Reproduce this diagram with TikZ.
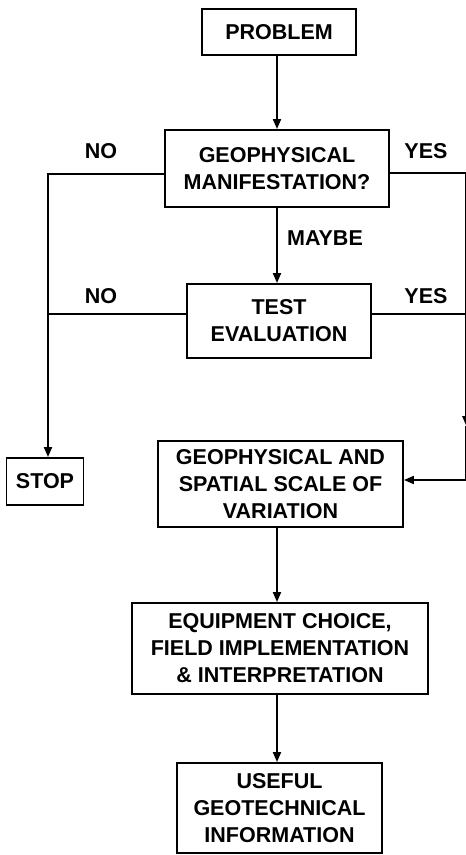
\documentclass[tikz,border=0pt]{standalone}
\usepackage{fontspec}
\setmainfont{Liberation Sans}
\usetikzlibrary{arrows.meta}
\begin{document}
\begin{tikzpicture}[x=1pt,y=-1pt,
  box/.style={draw, line width=1.9pt, inner sep=0pt, align=center, font=\fontsize{21.5}{27}\selectfont\bfseries},
  lab/.style={inner sep=0pt, font=\fontsize{21.5}{27}\selectfont\bfseries},
  conn/.style={line width=1.9pt},
  arr/.style={conn, -{Triangle[length=10pt,width=8pt]}}]
\useasboundingbox (0,0) rectangle (466,855);
\clip (0,0) rectangle (466,855);
% boxes
\node[box, minimum width=154pt, minimum height=46pt] (prob) at (279,32) {PROBLEM};
\node[box, minimum width=224pt, minimum height=77pt] (geo) at (277,168.5) {GEOPHYSICAL\\MANIFESTATION?};
\node[box, minimum width=184pt, minimum height=74pt] (test) at (279,321) {TEST\\EVALUATION};
\node[box, minimum width=77pt, minimum height=47pt] (stop) at (45,481.5) {STOP};
\node[box, minimum width=245pt, minimum height=86pt] (scale) at (280.5,484) {GEOPHYSICAL AND\\SPATIAL SCALE OF\\VARIATION};
\node[box, minimum width=296pt, minimum height=91pt] (equip) at (280,648.5) {EQUIPMENT CHOICE,\\FIELD IMPLEMENTATION\\\& INTERPRETATION};
\node[box, minimum width=205pt, minimum height=90pt] (useful) at (279.5,808) {USEFUL\\GEOTECHNICAL\\INFORMATION};
% labels
\node[lab] (no1) at (101,151) {NO};
\node[lab] (yes1) at (426,151) {YES};
\node[lab] (maybe) at (325,238) {MAYBE};
\node[lab] (no2) at (101,296) {NO};
\node[lab] (yes2) at (426,296) {YES};
% coordinates
\coordinate (sp) at (277,0);
\coordinate (gL) at (48,174);
\coordinate (tL) at (48,314);
\coordinate (gR) at (466.3,173);
\coordinate (tR) at (466.3,314);
\coordinate (aR) at (466.3,426);
\coordinate (sR) at (466.3,480);
% connectors
\draw[arr] (prob.south -| sp) -- (geo.north -| sp);
\draw[arr] (geo.south -| sp) -- (test.north -| sp);
\draw[arr] (scale.south -| sp) -- (equip.north -| sp);
\draw[arr] (equip.south -| sp) -- (useful.north -| sp);
\draw[arr] (geo.west |- gL) -- (gL) -- (stop.north -| gL);
\draw[conn] (test.west |- tL) -- (tL);
\draw[conn] (test.east |- tR) -- (tR);
\draw[arr] (geo.east |- gR) -- (gR) -- (aR);
\draw[conn] (aR) -- (sR);
\draw[arr] (sR) -- (scale.east |- sR);
\end{tikzpicture}
\end{document}
